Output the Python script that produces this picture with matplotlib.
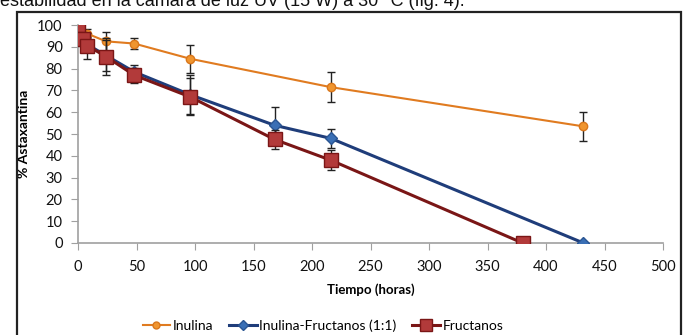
import matplotlib
matplotlib.use("Agg")
import matplotlib.pyplot as plt
from matplotlib.patches import Rectangle
from matplotlib.lines import Line2D

# Data
t_inulina = [0, 8, 24, 48, 96, 216, 432]
y_inulina = [100, 96, 92.5, 91.5, 84.5, 71.5, 53.5]
e_inulina = [0, 2, 4.5, 2.5, 6.5, 7, 6.5]

t_mix = [0, 4, 8, 24, 48, 96, 168, 216, 432]
y_mix = [100, 94, 91, 86, 78.5, 68, 54, 48, 0]
e_mix = [0, 3, 3.5, 7, 3, 9, 8.5, 4.5, 0]

t_fru = [0, 4, 8, 24, 48, 96, 168, 216, 380]
y_fru = [100, 93.5, 90.5, 85.5, 77, 67, 47.5, 38, 0]
e_fru = [0, 3, 6, 8.5, 3.5, 8.5, 4.5, 4.5, 0]

xticks = list(range(0, 501, 50))
yticks = list(range(0, 101, 10))

plt.rcParams['font.family'] = ['Lato', 'DejaVu Sans']

W, H = 687, 335
fig = plt.figure(figsize=(W / 100, H / 100), dpi=100)
ax = fig.add_axes([78 / W, 1 - 243 / H, (663 - 78) / W, (243 - 25) / H])

# chart border
fig.patches.append(Rectangle((17 / W, -0.01), (681 - 17) / W, 1 - 12 / H + 0.01,
                             transform=fig.transFigure, fill=False,
                             edgecolor='#222222', linewidth=1.6))
fig.text(0.0, 1 - 6 / H, "estabilidad en la cámara de luz UV (15 W) a 30 °C (fig. 4).",
         fontsize=13, family='Liberation Sans', va='baseline', ha='left', color='#111111')

ecol = '#222222'
ax.errorbar(t_inulina, y_inulina, yerr=e_inulina, color='#E07B20', lw=1.5,
            marker='o', ms=6, mfc='#F0952F', mec='#D9771C',
            ecolor=ecol, elinewidth=1, capsize=3, zorder=3)
ax.errorbar(t_mix, y_mix, yerr=e_mix, color='#1F3D7A', lw=2.2,
            marker='D', ms=6, mfc='#3A6FB5', mec='#2A5592',
            ecolor=ecol, elinewidth=1, capsize=3, zorder=4)
ax.errorbar(t_fru, y_fru, yerr=e_fru, color='#7A1616', lw=2.2,
            marker='s', ms=10, mfc='#B23A3A', mec='#7A1616',
            ecolor=ecol, elinewidth=1, capsize=3, zorder=5)

ax.set_xlim(0, 500)
ax.set_ylim(0, 100)
ax.set_xticks(xticks)
ax.set_yticks(yticks)
for s in ['top', 'right']:
    ax.spines[s].set_visible(False)
for s in ['left', 'bottom']:
    ax.spines[s].set_color('#A0A0A0')
    ax.spines[s].set_linewidth(1.2)
ax.tick_params(direction='out', length=5, color='#A0A0A0', labelsize=10.5,
               labelcolor='#111111')
ax.tick_params(axis='x', pad=7)
ax.tick_params(axis='y', pad=6)
ax.set_xlabel('Tiempo (horas)', fontsize=9.5, fontweight='bold', labelpad=7)
ax.set_ylabel('% Astaxantina', fontsize=10, fontweight='bold', labelpad=5)
for sp in ax.spines.values():
    sp.set_clip_on(False)

handles = [
    Line2D([], [], color='#E07B20', lw=1.5, marker='o', ms=5, mfc='#F0952F', mec='#D9771C'),
    Line2D([], [], color='#1F3D7A', lw=2.2, marker='D', ms=5, mfc='#3A6FB5', mec='#2A5592'),
    Line2D([], [], color='#7A1616', lw=2.2, marker='s', ms=8, mfc='#B23A3A', mec='#7A1616'),
]
labels = ['Inulina', 'Inulina-Fructanos (1:1)', 'Fructanos']
fig.legend(handles, labels, loc='center', bbox_to_anchor=(323 / W, 1 - 326 / H), ncol=3,
           frameon=False, fontsize=10, handlelength=2.0, handletextpad=0.2,
           columnspacing=1.1)

fig.savefig('out.png', dpi=100)
